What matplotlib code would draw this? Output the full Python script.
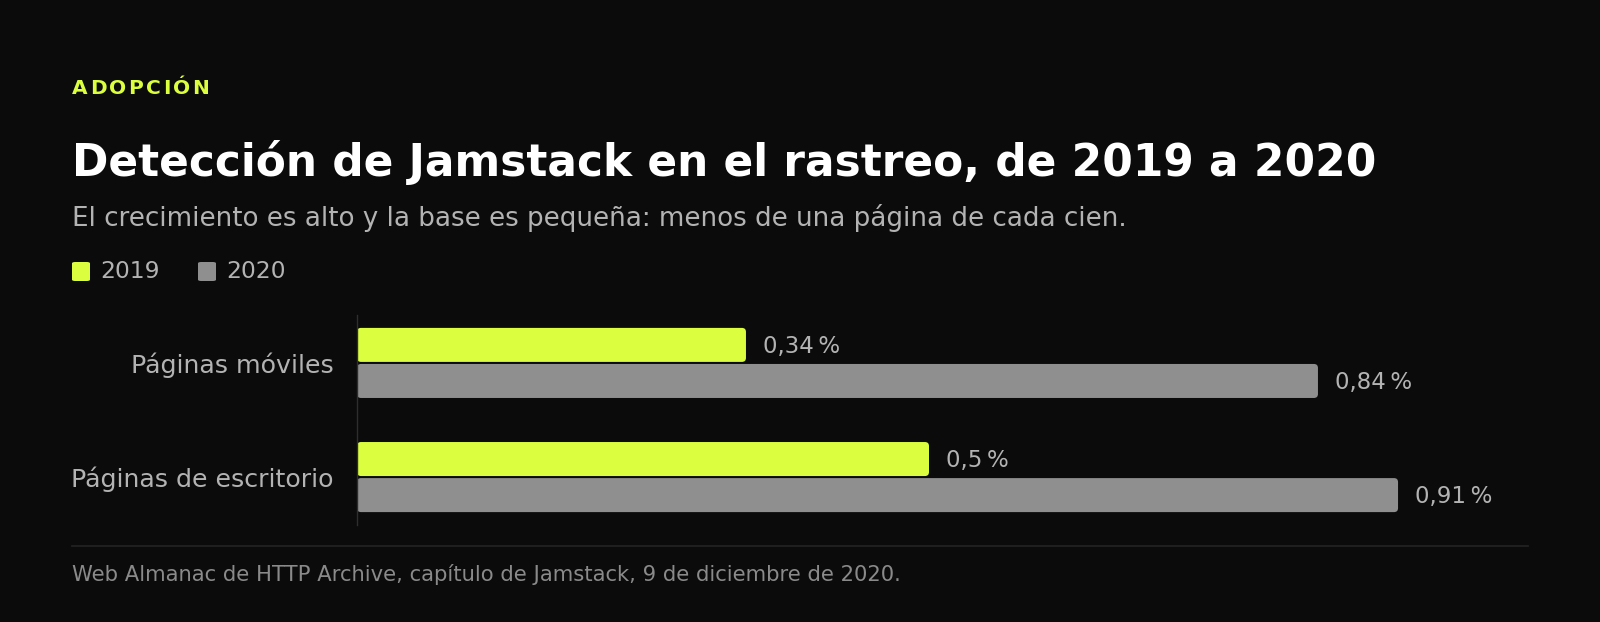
import matplotlib
matplotlib.use("Agg")
import matplotlib.pyplot as plt
from matplotlib.patches import FancyBboxPatch
import numpy as np

# data
categories = ["Páginas móviles", "Páginas de escritorio"]
series_names = ["2019", "2020"]
values_2019 = [0.34, 0.50]
values_2020 = [0.84, 0.91]
value_labels_2019 = ["0,34\u202f%", "0,5\u202f%"]
value_labels_2020 = ["0,84\u202f%", "0,91\u202f%"]

BG = "#0b0b0b"
YELLOW = "#dbff3e"
GREY = "#8f8f8f"
LABEL = "#b3b3b3"
FOOT = "#8a8a8a"

W, H = 1600, 622
plt.rcParams['font.family'] = ['DejaVu Sans']

fig = plt.figure(figsize=(W / 100, H / 100), dpi=100, facecolor=BG)

def fx(px):
    return px / W

def fy(py):
    return 1 - py / H

# kicker with letter spacing, char by char
renderer = fig.canvas.get_renderer()
x = 72
for ch in "ADOPCIÓN":
    t = fig.text(fx(x), fy(94), ch, color=YELLOW, fontsize=14.5, fontweight='bold',
                 va='baseline', ha='left')
    bb = t.get_window_extent(renderer)
    x += bb.width + 2.4

fig.text(fx(72), fy(176), "Detección de Jamstack en el rastreo, de 2019 a 2020",
         color="white", fontsize=31.6, fontweight='bold', va='baseline')
fig.text(fx(72), fy(226),
         "El crecimiento es alto y la base es pequeña: menos de una página de cada cien.",
         color=LABEL, fontsize=18.8, va='baseline')

# legend
leg_x = [72, 198]
for i, name in enumerate(series_names):
    col = YELLOW if i == 0 else GREY
    sq = FancyBboxPatch((fx(leg_x[i]), fy(281)), fx(18), 19 / H,
                        boxstyle="round,pad=0,rounding_size=0.002",
                        transform=fig.transFigure, facecolor=col, edgecolor='none')
    fig.patches.append(sq)
    fig.text(fx(leg_x[i] + 28), fy(278), name, color=LABEL, fontsize=16.8, va='baseline')

# bars
ax = fig.add_axes([fx(357), fy(525), 1144 / W, 210 / H])
ax.set_facecolor(BG)
y = np.arange(len(categories))
h = 0.298
off = 0.158
b1 = ax.barh(y - off, values_2019, height=h, color=YELLOW)
b2 = ax.barh(y + off, values_2020, height=h, color=GREY)

ax.set_xlim(0, 1.0)
ax.set_ylim(1.42, -0.42)

# swap the square bars for slightly rounded ones (x: 1144 px/unit, y: 114 px/unit)
aspect = (1144 / 1.0) / (210 / 1.84)
for bars in (b1, b2):
    for rect in bars:
        rect.set_visible(False)
        ax.add_patch(FancyBboxPatch((rect.get_x(), rect.get_y()), rect.get_width(), rect.get_height(),
                                    boxstyle="round,pad=0,rounding_size=0.0035",
                                    mutation_aspect=aspect,
                                    facecolor=rect.get_facecolor(), edgecolor='none'))

for bars, labels in [(b1, value_labels_2019), (b2, value_labels_2020)]:
    for rect, lab in zip(bars, labels):
        ax.annotate(lab, (rect.get_width(), rect.get_y() + rect.get_height() / 2),
                    xytext=(17, -8), textcoords='offset pixels',
                    color=LABEL, fontsize=16.5, va='baseline', ha='left',
                    annotation_clip=False)

ax.set_yticks(y)
ax.set_yticklabels(categories, color=LABEL, fontsize=18.2)
ax.tick_params(axis='y', length=0, pad=17)
ax.set_xticks([])
for s in ['top', 'right', 'bottom']:
    ax.spines[s].set_visible(False)
ax.spines['left'].set_color("#2e2e2e")
ax.spines['left'].set_linewidth(1)

# separator and footer
fig.add_artist(plt.Line2D([fx(72), fx(1528)], [fy(546), fy(546)],
                          color="#242424", linewidth=1.2, transform=fig.transFigure))
fig.text(fx(72), fy(581),
         "Web Almanac de HTTP Archive, capítulo de Jamstack, 9 de diciembre de 2020.",
         color=FOOT, fontsize=15.2, va='baseline')

fig.savefig("out.png", dpi=100, facecolor=BG)
